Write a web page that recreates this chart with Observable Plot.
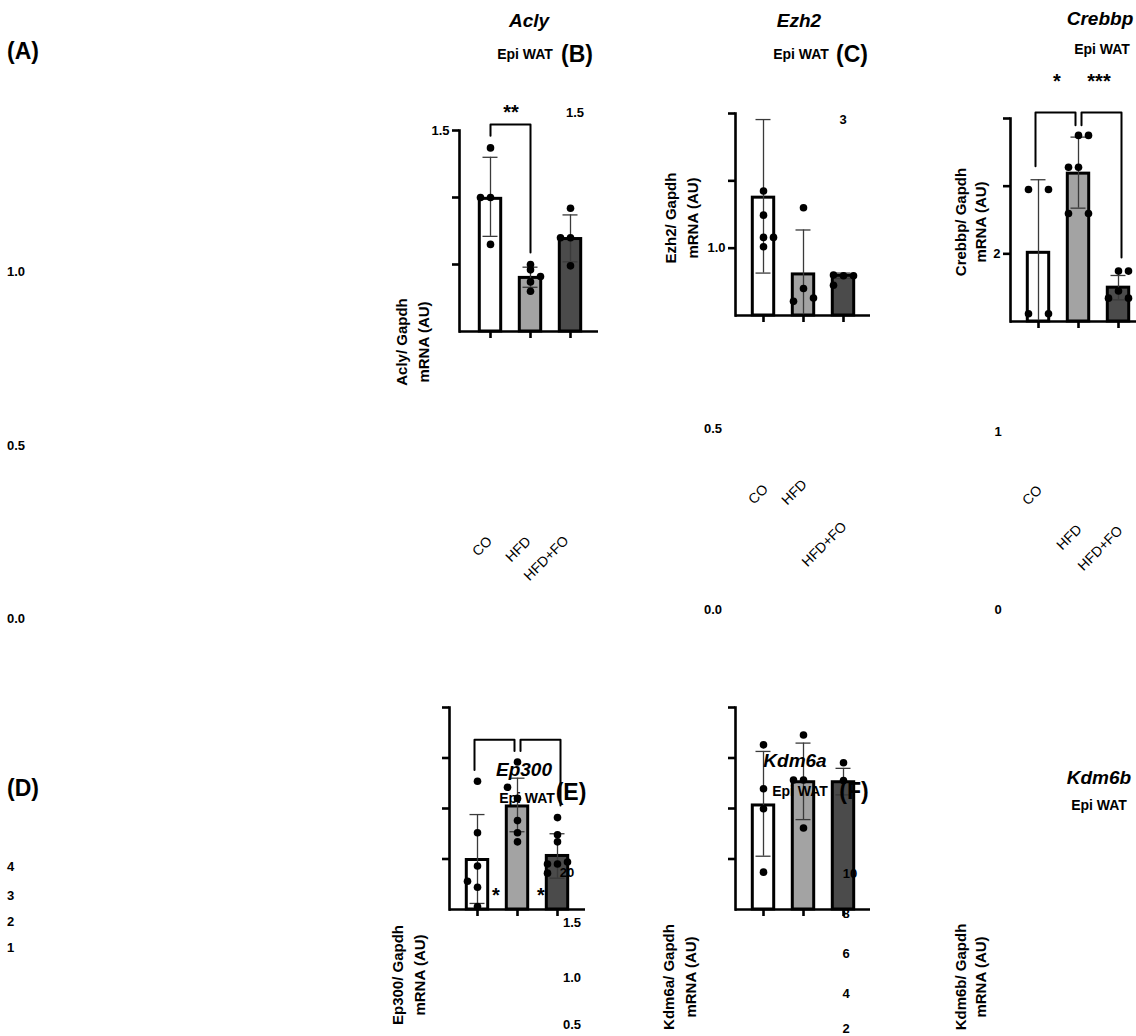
<!DOCTYPE html>
<html><head><meta charset="utf-8">
<script src="https://cdn.jsdelivr.net/npm/d3@7"></script>
<script src="https://cdn.jsdelivr.net/npm/@observablehq/plot@0.6"></script>
<style>
body{margin:0;background:#fff}
#root{position:relative;width:1136px;height:1036px;overflow:hidden;background:#fff;font-family:"Liberation Sans",Arial,Helvetica,sans-serif}
.panel{position:absolute}
</style></head><body><div id="root"></div><script>
// ---------- data ----------
const groups = ["CO", "HFD", "HFD+FO"];
const groupFills = ["#ffffff", "#a3a3a3", "#4b4b4b"];

// Acly (B)
const aclyMean = [0.99, 0.40, 0.69];
const aclyLow = [0.71, 0.33, 0.52];
const aclyHigh = [1.30, 0.48, 0.87];
const aclyPoints = [["CO",1.37,0],["CO",1.0,-1],["CO",1.0,0],["CO",0.65,0],
  ["HFD",0.50,0],["HFD",0.46,0],["HFD",0.41,1],["HFD",0.37,0],["HFD",0.30,0],
  ["HFD+FO",0.92,0],["HFD+FO",0.70,-1],["HFD+FO",0.70,0],["HFD+FO",0.49,0]];
const aclyBrackets = [["CO","HFD",1.46,1.545,0.59]];
const aclyTicks = [0.5, 1.0, 1.5];
const aclyTickText = {1.5: "1.5"};

// Ezh2 (C)
const ezh2Mean = [1.75, 0.61, 0.59];
const ezh2Low = [0.63, 0.0, 0.55];
const ezh2High = [2.91, 1.27, 0.63];
const ezh2Points = [["CO",1.85,0],["CO",1.49,0],["CO",1.16,0],["CO",1.16,1],["CO",1.02,0],
  ["HFD",1.60,0],["HFD",0.40,0],["HFD",0.26,1],["HFD",0.21,-1],
  ["HFD+FO",0.60,-1],["HFD+FO",0.59,0],["HFD+FO",0.59,1],["HFD+FO",0.45,-1]];
const ezh2Brackets = [];
const ezh2Ticks = [1, 2, 3];
const ezh2TickText = {1: "1.0"};

// Crebbp (D)
const crebbpMean = [2.03, 4.37, 1.00];
const crebbpLow = [0.0, 3.35, 0.64];
const crebbpHigh = [4.19, 5.45, 1.36];
const crebbpPoints = [["CO",3.9,-1],["CO",3.9,1],["CO",0.23,-1],["CO",0.23,1],
  ["HFD",5.50,0],["HFD",5.50,1],["HFD",4.56,-1],["HFD",4.56,0],["HFD",3.19,-1],["HFD",3.19,1],
  ["HFD+FO",1.49,0],["HFD+FO",1.49,1],["HFD+FO",0.90,0],["HFD+FO",0.69,-1],["HFD+FO",0.69,1]];
const crebbpBrackets = [["CO","HFD",4.59,6.18,5.80],["HFD","HFD+FO",5.80,6.18,1.89]];
const crebbpTicks = [2, 4, 6];
const crebbpTickText = {2: "2"};

// Ep300 (E)
const ep300Mean = [0.49, 1.02, 0.53];
const ep300Low = [0.06, 0.77, 0.31];
const ep300High = [0.94, 1.30, 0.75];
const ep300Points = [["CO",1.27,0],["CO",0.76,0],["CO",0.43,0],["CO",0.28,-1],["CO",0.22,0],["CO",0.03,0],
  ["HFD",1.46,0],["HFD",1.21,-1],["HFD",1.10,0],["HFD",0.88,0],["HFD",0.76,0],["HFD",0.67,0],
  ["HFD+FO",0.91,0],["HFD+FO",0.74,0],["HFD+FO",0.67,0],["HFD+FO",0.47,1],["HFD+FO",0.45,-1],["HFD+FO",0.45,0],["HFD+FO",0.36,-1]];
const ep300Brackets = [["CO","HFD",1.38,1.68,1.57],["HFD","HFD+FO",1.57,1.68,1.03]];
const ep300Ticks = [0.5, 1.0, 1.5, 2.0];
const ep300TickText = {};

// Kdm6a (F)
const kdm6aMean = [4.12, 5.04, 5.04];
const kdm6aLow = [2.11, 3.56, 4.54];
const kdm6aHigh = [6.26, 6.59, 5.59];
const kdm6aPoints = [["CO",6.52,0],["CO",4.78,0],["CO",3.99,0],["CO",1.48,0],
  ["HFD",6.91,0],["HFD",5.13,-1],["HFD",5.13,0],["HFD",3.23,0],
  ["HFD+FO",5.81,0],["HFD+FO",5.11,0]];
const kdm6aBrackets = [];
const kdm6aTicks = [2, 4, 6, 8];
const kdm6aTickText = {};

// ---------- layout (pixel frames: y-axis x, top tick y, right end x, baseline y, band centers) ----------
const FONT = '"Liberation Sans", Arial, Helvetica, sans-serif';
const panels = [
  {mean: aclyMean, low: aclyLow, high: aclyHigh, points: aclyPoints, brackets: aclyBrackets, ymax: 1.5, ticks: aclyTicks, tickText: aclyTickText,
   frame: {ax: 459, top: 130, right: 598, base: 331, c0: 489, c2: 570}},
  {mean: ezh2Mean, low: ezh2Low, high: ezh2High, points: ezh2Points, brackets: ezh2Brackets, ymax: 3, ticks: ezh2Ticks, tickText: ezh2TickText,
   frame: {ax: 735, top: 113, right: 870, base: 315, c0: 762, c2: 843}},
  {mean: crebbpMean, low: crebbpLow, high: crebbpHigh, points: crebbpPoints, brackets: crebbpBrackets, ymax: 6, ticks: crebbpTicks, tickText: crebbpTickText,
   frame: {ax: 1010, top: 118, right: 1150, base: 321, c0: 1038, c2: 1118}},
  {mean: ep300Mean, low: ep300Low, high: ep300High, points: ep300Points, brackets: ep300Brackets, ymax: 2, ticks: ep300Ticks, tickText: ep300TickText,
   frame: {ax: 449, top: 707, right: 585, base: 909, c0: 477, c2: 557}},
  {mean: kdm6aMean, low: kdm6aLow, high: kdm6aHigh, points: kdm6aPoints, brackets: kdm6aBrackets, ymax: 8, ticks: kdm6aTicks, tickText: kdm6aTickText,
   frame: {ax: 735, top: 707, right: 870, base: 909, c0: 762, c2: 843}}
];

const root = document.getElementById("root");

function makePanel(p) {
  const f = p.frame;
  const mL = 40, mT = 40, mB = 22, mR = 8;
  const left = f.ax - mL, top = f.top - mT;
  const width = f.right - f.ax + mL + mR;
  const height = f.base - f.top + mT + mB;
  const step = (f.c2 - f.c0) / 2;
  const range = [f.c0 - left - 0.5 * step, f.c2 - left + 0.5 * step];
  const bars = groups.map((g, i) => ({g, v: p.mean[i], lo: p.low[i], hi: p.high[i], fill: groupFills[i]}));
  const pts = p.points.map(([g, v, s]) => ({g, v, s}));
  const brk = [];
  p.brackets.forEach(([g1, g2, d1, t, d2], k) => {
    brk.push({id: k, g: g1, v: d1}, {id: k, g: g1, v: t}, {id: k, g: g2, v: t}, {id: k, g: g2, v: d2});
  });
  const nb = p.brackets.length;
  const bracketMarks = p.brackets.map((b, k) => Plot.line(brk.filter(d => d.id === k), {
    x: "g", y: "v", stroke: "black", strokeWidth: 2, dx: nb > 1 ? (k === 0 ? -3 : 3) : 0
  }));
  const errStyle = {stroke: "#3a3a3a", strokeWidth: 1.3};
  const chart = Plot.plot({
    width, height, marginLeft: mL, marginTop: mT, marginRight: mR, marginBottom: mB,
    x: {type: "band", domain: groups, range, paddingInner: 0.4, paddingOuter: 0.2, axis: null, label: null},
    y: {domain: [0, p.ymax], axis: null, label: null},
    color: {type: "identity"},
    style: {fontFamily: FONT, fontSize: "13px", fontWeight: "bold", background: "none", overflow: "visible", color: "black"},
    marks: [
      Plot.barY(bars, {x: "g", y: "v", fill: "fill", stroke: "black", strokeWidth: 3, insetLeft: 1.3, insetRight: 1.3}),
      Plot.ruleX(bars, {x: "g", y1: "lo", y2: "hi", ...errStyle}),
      Plot.tickY(bars, {x: "g", y: "hi", insetLeft: 4.5, insetRight: 4.5, ...errStyle}),
      Plot.tickY(bars.filter(d => d.lo > 0), {x: "g", y: "lo", insetLeft: 4.5, insetRight: 4.5, ...errStyle}),
      Plot.dot(pts.filter(d => d.s === -1), {x: "g", y: "v", r: 3.8, fill: "black", dx: -10}),
      Plot.dot(pts.filter(d => d.s === 0), {x: "g", y: "v", r: 3.8, fill: "black"}),
      Plot.dot(pts.filter(d => d.s === 1), {x: "g", y: "v", r: 3.8, fill: "black", dx: 10}),
      ...bracketMarks,
      Plot.ruleY([0], {stroke: "black", strokeWidth: 2.6}),
      Plot.frame({anchor: "left", stroke: "black", strokeWidth: 2.6}),
      Plot.axisY({ticks: p.ticks, tickSize: 7, strokeWidth: 2.6, tickPadding: 3, label: null, tickFormat: d => p.tickText[d] ?? ""}),
      Plot.axisX({tickSize: 7, strokeWidth: 2.6, label: null, tickFormat: () => ""})
    ]
  });
  chart.classList.add("panel");
  chart.style.left = left + "px";
  chart.style.top = top + "px";
  root.appendChild(chart);
}
panels.forEach(makePanel);

// ---------- text overlay ----------
const ov = d3.select(root).append("svg")
  .attr("width", 1136).attr("height", 1036)
  .style("position", "absolute").style("left", 0).style("top", 0)
  .style("font-family", FONT).style("pointer-events", "none");

const texts = [];
const T = (t, x, y, o = {}) => texts.push({t, x, y, size: 13, weight: "bold", italic: false, anchor: "middle", rot: 0, dy: "0.35em", ...o});
// gene titles
[["Acly",529,20],["Ezh2",799,20],["Crebbp",1100,18],["Ep300",524,769],["Kdm6a",795,760],["Kdm6b",1099,777]]
  .forEach(([t,x,y]) => T(t, x, y, {size: 19, italic: true}));
// tissue subtitles
[[525,54],[801,54],[1102,49],[527,798],[800,791],[1099,805]].forEach(([x,y]) => T("Epi WAT", x, y, {size: 14}));
// panel letters
T("(A)", 7, 51, {size: 23, anchor: "start"});
T("(D)", 7, 788, {size: 23, anchor: "start"});
[["(B)",577,54],["(C)",852,54],["(E)",571,792],["(F)",854,791]].forEach(([t,x,y]) => T(t, x, y, {size: 23}));
// stray tick numbers
[["1.0",271],["0.5",445],["0.0",618],["4",866],["3",895],["2",921],["1",947]].forEach(([t,y]) => T(t, 7, y, {anchor: "start"}));
[["1.5",575,112],["3",843,119],["0.5",713,428],["0.0",713,609],["1",998,431],["0",998,609],
 ["20",567,872],["1.5",572,922],["1.0",572,977],["0.5",572,1024],
 ["10",850,873],["8",846,913],["6",846,953],["4",846,993],["2",846,1028]].forEach(([t,x,y]) => T(t, x, y));
// significance stars
[["**",511,108],["*",1057,77],["***",1099,77],["*",496,891],["*",541,891]].forEach(([t,x,y]) => T(t, x, y, {size: 20, dy: "0.57em"}));
// y-axis titles
[["Acly/ Gapdh",402,424,342],["Ezh2/ Gapdh",671,693,218],["Crebbp/ Gapdh",961,981,222],
 ["Ep300/ Gapdh",398,420,975],["Kdm6a/ Gapdh",669,691,977],["Kdm6b/ Gapdh",961,981,977]]
  .forEach(([t,x1,x2,y]) => { T(t, x1, y, {size: 15, rot: -90}); T("mRNA (AU)", x2, y, {size: 15, rot: -90}); });
// category labels (rotated)
[["CO",482,546],["HFD",518,549],["HFD+FO",546,558],
 ["CO",758,494],["HFD",794,492],["HFD+FO",824,544],
 ["CO",1032,495],["HFD",1069,537],["HFD+FO",1100,548]]
  .forEach(([t,x,y]) => T(t, x, y, {size: 14, weight: "normal", rot: -45}));

ov.selectAll("text").data(texts).join("text")
  .attr("transform", d => `translate(${d.x},${d.y}) rotate(${d.rot})`)
  .attr("dy", d => d.dy)
  .attr("text-anchor", d => d.anchor)
  .attr("font-size", d => d.size)
  .attr("font-weight", d => d.weight)
  .attr("font-style", d => d.italic ? "italic" : "normal")
  .attr("fill", "black")
  .text(d => d.t);
</script></body></html>
